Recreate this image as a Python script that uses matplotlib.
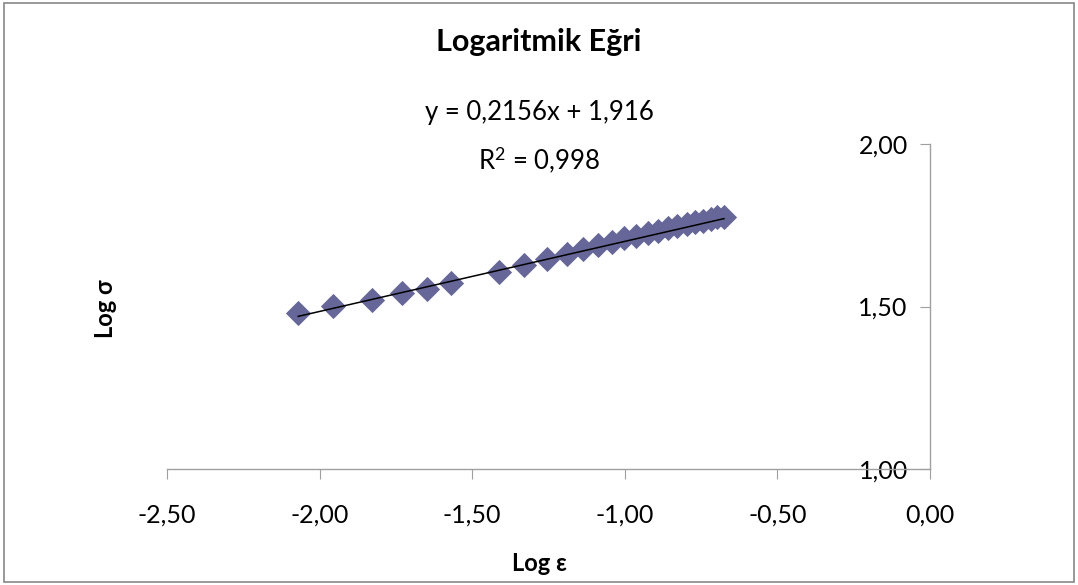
import matplotlib.pyplot as plt
from matplotlib.patches import Rectangle

# data (log strain, log stress)
log_eps = [-2.070, -1.955, -1.829, -1.729, -1.649, -1.569, -1.411, -1.330,
           -1.254, -1.190, -1.136, -1.087, -1.043, -1.003, -0.963, -0.925,
           -0.890, -0.857, -0.828, -0.797, -0.770, -0.743, -0.719, -0.697,
           -0.675]
log_sig = [1.479, 1.502, 1.520, 1.541, 1.553, 1.573, 1.607, 1.628,
           1.646, 1.662, 1.677, 1.689, 1.699, 1.710, 1.718, 1.725,
           1.732, 1.741, 1.748, 1.754, 1.759, 1.764, 1.769, 1.774,
           1.776]

# trend line from the chart
slope = 0.2156
intercept = 1.916
r2 = 0.998

x_ticks = [-2.5, -2.0, -1.5, -1.0, -0.5, 0.0]
y_ticks = [1.0, 1.5, 2.0]

plt.rcParams['font.family'] = ['Lato', 'DejaVu Sans']
plt.rcParams['mathtext.fontset'] = 'custom'
plt.rcParams['mathtext.rm'] = 'Lato'
plt.rcParams['mathtext.it'] = 'Lato:italic'
plt.rcParams['mathtext.bf'] = 'Lato:bold'

fig = plt.figure(figsize=(10.78, 5.85), dpi=100)
ax = fig.add_axes([0.1549, 0.1983, 0.7078, 0.5555])

ax.scatter(log_eps, log_sig, marker='D', s=165, color='#666699', zorder=3,
           linewidths=0)

x_line = [min(log_eps), max(log_eps)]
y_line = [slope * v + intercept for v in x_line]
ax.plot(x_line, y_line, color='black', linewidth=1.1, zorder=4)

ax.set_xlim(-2.5, 0)
ax.set_ylim(1.0, 2.0)
ax.set_xticks(x_ticks)
ax.set_yticks(y_ticks)
ax.set_xticklabels([f"{v:.2f}".replace('.', ',') for v in x_ticks])
ax.set_yticklabels([f"{v:.2f}".replace('.', ',') for v in y_ticks])

# y axis crosses at x = 0
ax.spines['left'].set_position(('data', 0))
ax.spines['right'].set_visible(False)
ax.spines['top'].set_visible(False)
for s in ['left', 'bottom']:
    ax.spines[s].set_color('#a0a0a0')
    ax.spines[s].set_linewidth(1)
ax.tick_params(axis='both', direction='out', length=7, color='#a0a0a0',
               labelsize=18)
ax.tick_params(axis='x', pad=18)
ax.tick_params(axis='y', pad=9)
ax.patch.set_alpha(0)

fig.text(0.5, 0.928, "Logaritmik Eğri", ha='center', va='center',
         fontsize=22, fontweight='bold')
fig.text(0.5, 0.808, "y = 0,2156x + 1,916", ha='center', va='center',
         fontsize=18.5)
fig.text(0.5, 0.727, "R$^2$ = " + f"{r2:.3f}".replace('.', ','),
         ha='center', va='center', fontsize=18.5)
fig.text(0.5, 0.037, "Log ε", ha='center', va='center', fontsize=17,
         fontweight='bold')
fig.text(0.0975, 0.473, "Log σ", ha='center', va='center', fontsize=17,
         fontweight='bold', rotation=90)

fig.patches.append(Rectangle((0.004, 0.005), 0.992, 0.99,
                             transform=fig.transFigure, fill=False,
                             edgecolor='#888888', linewidth=1.2))

plt.savefig("out.png", dpi=100)
